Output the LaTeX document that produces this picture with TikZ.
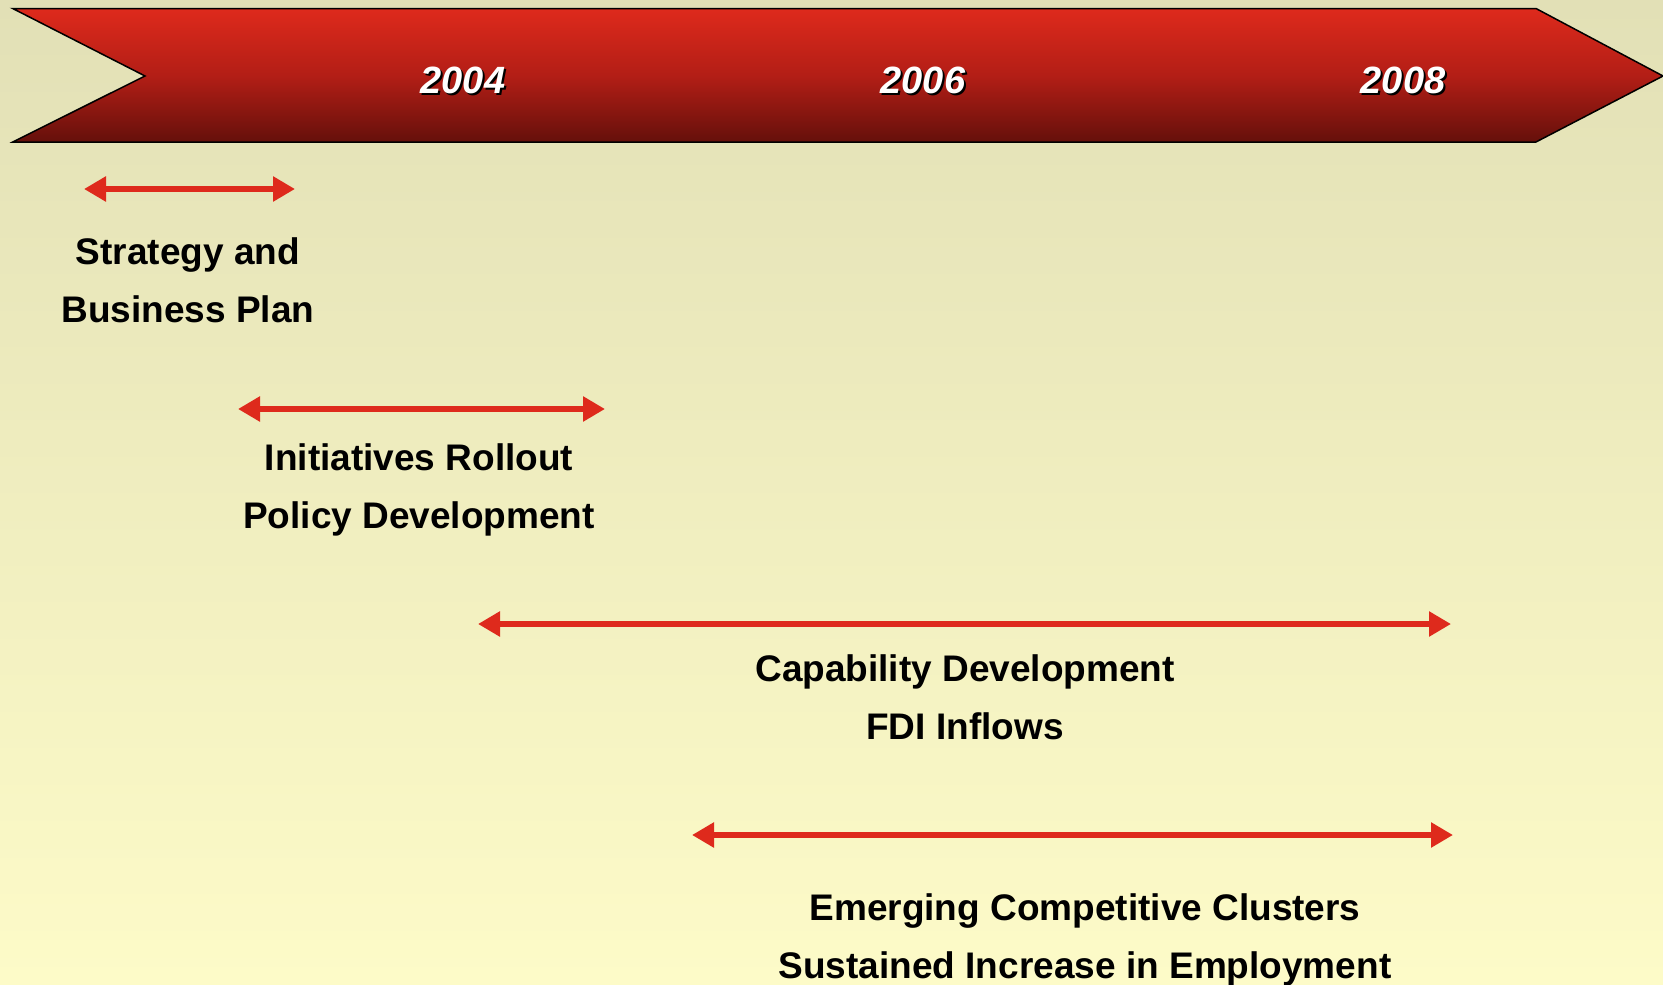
\documentclass[tikz,border=0pt]{standalone}
\usepackage{fontspec}
\setmainfont{Liberation Sans}
\usetikzlibrary{arrows.meta,positioning}
\definecolor{bgtop}{HTML}{E2E0B6}
\definecolor{bgbot}{HTML}{FDFBC8}
\definecolor{bantop}{HTML}{DE2A1C}
\definecolor{banmid}{HTML}{B31E16}
\definecolor{banbot}{HTML}{65100B}
\definecolor{spanred}{HTML}{DE2A1C}

\begin{document}
\begin{tikzpicture}[
  x=1pt, y=1pt,
  >={Triangle[length=22pt,width=24pt]},
  year/.style={text=white, inner sep=0pt,
               font=\fontsize{38}{40}\selectfont\bfseries\itshape},
  yearshadow/.style={year, text=black},
  span/.style={<->, line width=6.5pt, spanred},
  phase/.style={align=center, inner sep=0pt, text=black,
                font=\fontsize{37}{58}\selectfont\bfseries}]

%% Lienzo en píxeles: 1 px = 1 pt, con el eje y hacia abajo en negativo.
\fill[top color=bgtop, bottom color=bgbot] (0,0) rectangle (1663,-985);
\useasboundingbox (0,0) rectangle (1663,-985);

%% ---- banda de años ----
\draw[line width=1.5pt, top color=bantop, bottom color=banbot,
      middle color=banmid]
  (12.7,-8.5) -- (1536,-8.5) -- (1663,-76) -- (1536,-142)
  -- (12.7,-142) -- (145,-76) -- cycle;

\node[yearshadow] (y2004s) at (465,-82)  {2004};
\node[year]       (y2004)  at (463,-80)  {2004};
\node[yearshadow] (y2006s) at (925,-82)  {2006};
\node[year]       (y2006)  at (923,-80)  {2006};
\node[yearshadow] (y2008s) at (1405,-82) {2008};
\node[year]       (y2008)  at (1403,-80) {2008};

%% ---- fases ----
\coordinate (sbp-w) at (84,-189);
\coordinate (sbp-e) at (295,-189);
\draw[span] (sbp-w) -- (sbp-e);
\node[phase] (sbp) at (188,-280) {Strategy and\\Business Plan};

\coordinate (irp-w) at (238,-409);
\coordinate (irp-e) at (605,-409);
\draw[span] (irp-w) -- (irp-e);
\node[phase] (irp) at (419,-490) {Initiatives Rollout\\Policy Development};

\coordinate (cdf-w) at (478,-624);
\coordinate (cdf-e) at (1451,-624);
\draw[span] (cdf-w) -- (cdf-e);
\node[phase] (cdf) at (965,-697) {Capability Development\\FDI Inflows};

\coordinate (ecc-w) at (692,-835);
\coordinate (ecc-e) at (1453,-835);
\draw[span] (ecc-w) -- (ecc-e);
\node[phase] (ecc) at (1085,-940) {Emerging Competitive Clusters\\Sustained Increase in Employment};

\end{tikzpicture}
\end{document}
